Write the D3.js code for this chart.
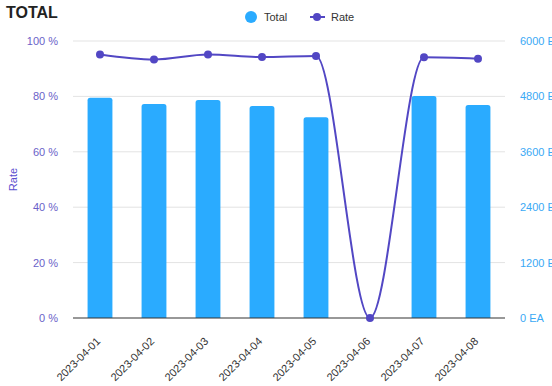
<!DOCTYPE html>
<html>
<head>
<meta charset="utf-8">
<script src="https://cdn.jsdelivr.net/npm/d3@7"></script>
<style>
  body { margin: 0; background: #fff; font-family: "Liberation Sans", Arial, sans-serif; }
  svg { display: block; font-family: "Liberation Sans", Arial, sans-serif; }
</style>
</head>
<body>
<svg id="chart" width="552" height="386"></svg>
<script>
  const dates = ["2023-04-01", "2023-04-02", "2023-04-03", "2023-04-04",
    "2023-04-05", "2023-04-06", "2023-04-07", "2023-04-08"];
  const totals = [4770, 4635, 4720, 4592, 4347, 0, 4808, 4613];
  const rates = [95.1, 93.3, 95.1, 94.2, 94.6, 0, 94.1, 93.6];
  const rateTicks = [0, 20, 40, 60, 80, 100];
  const totalTicks = [0, 1200, 2400, 3600, 4800, 6000];

  const BAR_COLOR = "#2aabff";
  const LINE_COLOR = "#5247c4";
  const LEFT = 73, RIGHT = 505, TOP = 41, BOTTOM = 318;

  const svg = d3.select("#chart");

  const x = d3.scaleBand().domain(dates).range([LEFT, RIGHT]).paddingInner(0.54).paddingOuter(0.27);
  const yRate = d3.scaleLinear().domain([0, 100]).range([BOTTOM, TOP]);
  const yTotal = d3.scaleLinear().domain([0, 6000]).range([BOTTOM, TOP]);

  // grid
  svg.append("g")
    .selectAll("line")
    .data(rateTicks.slice(1))
    .join("line")
    .attr("x1", LEFT).attr("x2", RIGHT)
    .attr("y1", (d) => yRate(d)).attr("y2", (d) => yRate(d))
    .attr("stroke", "#e3e3e3").attr("stroke-width", 1);

  // left axis
  const leftAxis = svg.append("g")
    .attr("transform", `translate(${LEFT},0)`)
    .call(d3.axisLeft(yRate).tickValues(rateTicks).tickSize(0).tickPadding(15).tickFormat((d) => d + " %"));
  leftAxis.select(".domain").remove();
  leftAxis.selectAll("text").attr("fill", "#6a5fc9").style("font-size", "11px")
    .style("font-family", "'Liberation Sans', Arial, sans-serif");

  // right axis
  const rightAxis = svg.append("g")
    .attr("transform", `translate(${RIGHT},0)`)
    .call(d3.axisRight(yTotal).tickValues(totalTicks).tickSize(0).tickPadding(15).tickFormat((d) => d + " EA"));
  rightAxis.select(".domain").remove();
  rightAxis.selectAll("text").attr("fill", "#3aa9f5").style("font-size", "11px")
    .style("font-family", "'Liberation Sans', Arial, sans-serif");

  // axis title
  svg.append("text")
    .attr("transform", `translate(17,${(TOP + BOTTOM) / 2}) rotate(-90)`)
    .attr("text-anchor", "middle")
    .attr("fill", "#5a4fcf")
    .style("font-size", "11px")
    .text("Rate");

  // bars
  svg.append("g")
    .selectAll("path")
    .data(dates.map((d, i) => ({ date: d, value: totals[i] })).filter((d) => d.value > 0))
    .join("path")
    .attr("fill", BAR_COLOR)
    .attr("d", (d) => {
      const x0 = x(d.date), w = x.bandwidth(), y0 = yTotal(d.value), r = 2.5;
      return `M${x0},${BOTTOM}V${y0 + r}Q${x0},${y0} ${x0 + r},${y0}H${x0 + w - r}Q${x0 + w},${y0} ${x0 + w},${y0 + r}V${BOTTOM}Z`;
    });

  // baseline
  svg.append("line")
    .attr("x1", LEFT).attr("x2", RIGHT)
    .attr("y1", BOTTOM).attr("y2", BOTTOM)
    .attr("stroke", "#333").attr("stroke-width", 1.2);

  // x labels
  svg.append("g")
    .selectAll("text")
    .data(dates)
    .join("text")
    .attr("transform", (d) => `translate(${x(d) + x.bandwidth() / 2 + 1},${BOTTOM + 24}) rotate(-45)`)
    .attr("text-anchor", "end")
    .attr("fill", "#333")
    .style("font-size", "11px")
    .text((d) => d);

  // rate line
  const cx = (d) => x(d) + x.bandwidth() / 2;
  const line = d3.line()
    .x((d, i) => cx(dates[i]))
    .y((d) => yRate(d))
    .curve(d3.curveMonotoneX);
  svg.append("path")
    .datum(rates)
    .attr("d", line)
    .attr("fill", "none")
    .attr("stroke", LINE_COLOR)
    .attr("stroke-width", 2);
  svg.append("g")
    .selectAll("circle")
    .data(rates)
    .join("circle")
    .attr("cx", (d, i) => cx(dates[i]))
    .attr("cy", (d) => yRate(d))
    .attr("r", 4)
    .attr("fill", LINE_COLOR);

  // title
  svg.append("text")
    .attr("x", 6).attr("y", 18)
    .attr("fill", "#222")
    .style("font-size", "16px")
    .style("font-weight", "bold")
    .text("TOTAL");

  // legend
  const legend = svg.append("g").style("font-size", "11px").attr("fill", "#333");
  legend.append("circle").attr("cx", 251).attr("cy", 17).attr("r", 6).attr("fill", BAR_COLOR);
  legend.append("text").attr("x", 264).attr("y", 21).text("Total");
  legend.append("line").attr("x1", 310).attr("x2", 325).attr("y1", 17).attr("y2", 17)
    .attr("stroke", LINE_COLOR).attr("stroke-width", 2);
  legend.append("circle").attr("cx", 317).attr("cy", 17).attr("r", 4).attr("fill", LINE_COLOR);
  legend.append("text").attr("x", 331).attr("y", 21).text("Rate");
</script>
</body>
</html>
